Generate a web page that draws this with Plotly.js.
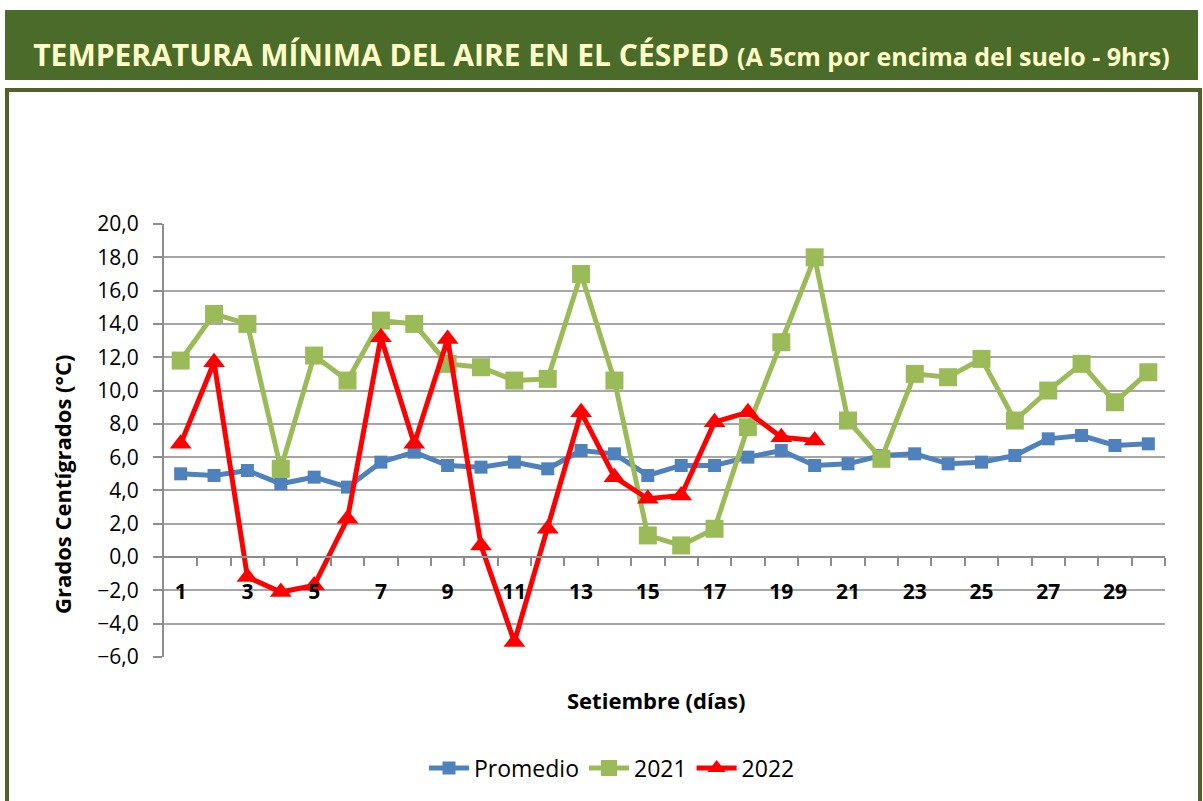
<!DOCTYPE html>
<html>
<head>
<meta charset="utf-8">
<script src="https://cdn.plot.ly/plotly-3.0.1.min.js"></script>
<style>html,body{margin:0;padding:0;background:#fff;}#chart{width:1203px;height:801px;}</style>
</head>
<body>
<div id="chart"></div>
<script>
const days = [1,2,3,4,5,6,7,8,9,10,11,12,13,14,15,16,17,18,19,20,21,22,23,24,25,26,27,28,29,30];
const promedio = [5.0,4.9,5.2,4.4,4.8,4.2,5.7,6.3,5.5,5.4,5.7,5.3,6.4,6.2,4.9,5.5,5.5,6.0,6.4,5.5,5.6,6.1,6.2,5.6,5.7,6.1,7.1,7.3,6.7,6.8];
const y2021 = [11.8,14.6,14.0,5.3,12.1,10.6,14.2,14.0,11.6,11.4,10.6,10.7,17.0,10.6,1.3,0.7,1.7,7.8,12.9,18.0,8.2,5.9,11.0,10.8,11.9,8.2,10.0,11.6,9.3,11.1];
const y2022 = [6.8,11.7,-1.2,-2.1,-1.7,2.3,13.2,6.8,13.1,0.7,-5.1,1.7,8.7,4.8,3.5,3.7,8.1,8.7,7.2,7.0,null,null,null,null,null,null,null,null,null,null];
const xTickVals = [1,3,5,7,9,11,13,15,17,19,21,23,25,27,29];
const xTickText = ["1","3","5","7","9","11","13","15","17","19","21","23","25","27","29"];
const xBoundaries = days.map(d => d + 0.5);
const seriesNames = ["Promedio","2021","2022"];

const FONT = "Open Sans, Noto Sans, sans-serif";
const traces = [
  {x: days, y: promedio, name: seriesNames[0], type: "scatter", mode: "lines+markers",
   line: {color: "#4F81BD", width: 5}, marker: {symbol: "square", size: 13, color: "#4F81BD"}},
  {x: days, y: y2021, name: seriesNames[1], type: "scatter", mode: "lines+markers",
   line: {color: "#9BBB59", width: 5}, marker: {symbol: "square", size: 18, color: "#9BBB59"}},
  {x: days, y: y2022, name: seriesNames[2], type: "scatter", mode: "lines+markers",
   line: {color: "#FF0000", width: 5}, marker: {symbol: "triangle-up", size: 19, color: "#FF0000"}, connectgaps: false}
];

const layout = {
  width: 1203, height: 801,
  margin: {l: 164, r: 38, t: 224, b: 144},
  paper_bgcolor: "#ffffff", plot_bgcolor: "#ffffff",
  separators: ",.",
  showlegend: true,
  font: {family: FONT, color: "#000"},
  title: {
    text: "<b>TEMPERATURA MÍNIMA DEL AIRE EN EL CÉSPED <span style='font-size:25px'>(A 5cm por encima del suelo - 9hrs)</span></b>",
    font: {family: FONT, size: 30, color: "#FFFFC8"},
    x: 0.5, xanchor: "center", xref: "container",
    y: 1 - 55/801, yanchor: "middle", yref: "container"
  },
  xaxis: {
    type: "linear", range: [0.5, 30.5],
    anchor: "free", position: 6/26,
    showline: true, linecolor: "#8c8c8c", linewidth: 2,
    showgrid: false, zeroline: false,
    tickmode: "array", tickvals: xTickVals, ticktext: xTickText,
    ticks: "", ticklabelstandoff: 16,
    tickfont: {family: FONT, size: 21, color: "#000", weight: "bold"},
    minor: {tickmode: "array", tickvals: xBoundaries, ticks: "outside", ticklen: 8, tickwidth: 2, tickcolor: "#8c8c8c", showgrid: false}
  },
  yaxis: {
    range: [-6, 20], dtick: 2, tick0: 0, tickformat: ".1f",
    showline: true, linecolor: "#8c8c8c", linewidth: 2,
    showgrid: true, gridcolor: "#a6a6a6", gridwidth: 2,
    zeroline: false,
    ticks: "outside", ticklen: 9, tickwidth: 2, tickcolor: "#8c8c8c",
    ticklabelstandoff: 10,
    tickfont: {family: FONT, size: 21, color: "#000"}
  },
  legend: {
    orientation: "h", x: (612-164)/1001, xanchor: "center", y: (657-768)/433, yanchor: "middle",
    font: {family: FONT, size: 23, color: "#000"}, itemwidth: 40, tracegroupgap: 0
  },
  annotations: [
    {text: "<b>Setiembre (días)</b>", xref: "paper", yref: "paper", x: (656-164)/1001, y: (657-700)/433,
     xanchor: "center", yanchor: "middle", showarrow: false, font: {family: FONT, size: 22, color: "#000"}},
    {text: "<b>Grados Centígrados (°C)</b>", xref: "paper", yref: "paper", x: (62-164)/1001, y: (657-485)/433,
     xanchor: "center", yanchor: "middle", textangle: -90, showarrow: false, font: {family: FONT, size: 22, color: "#000"}}
  ],
  shapes: [
    {type: "rect", xref: "paper", yref: "paper", layer: "below",
     x0: (5-164)/1001, x1: (1198-164)/1001, y0: (657-80)/433, y1: (657-10)/433,
     fillcolor: "#4A6B2A", line: {width: 0}},
    {type: "rect", xref: "paper", yref: "paper", layer: "below",
     x0: (7-164)/1001, x1: (1200-164)/1001, y0: (657-830)/433, y1: (657-90)/433,
     fillcolor: "rgba(0,0,0,0)", line: {color: "#4F6228", width: 4}}
  ]
};

Plotly.newPlot("chart", traces, layout, {staticPlot: true, displayModeBar: false});
</script>
</body>
</html>
